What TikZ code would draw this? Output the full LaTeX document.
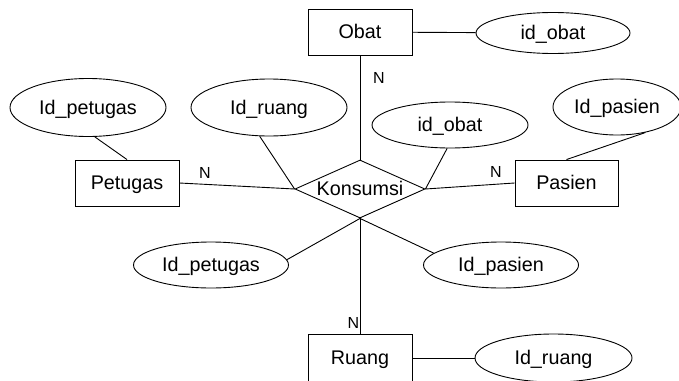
\documentclass[tikz,border=0pt]{standalone}
\usepackage{fontspec}
\setmainfont{Liberation Sans}
\usetikzlibrary{shapes.geometric}
\begin{document}
\begin{tikzpicture}[x=1pt,y=-1pt,
  every node/.style={inner sep=0pt, font=\fontsize{19.75}{22}\selectfont, text height=13.8pt, text depth=0pt},
  ent/.style={draw, rectangle, line width=0.9pt, minimum width=104pt, minimum height=46pt},
  attr/.style={draw, ellipse, line width=0.9pt, minimum width=156pt},
  rel/.style={draw, diamond, aspect=2.24, line width=0.9pt, minimum width=130pt, minimum height=58pt},
  card/.style={font=\fontsize{16}{18}\selectfont, text height=11.4pt},
  conn/.style={line width=0.9pt}]
\useasboundingbox (0,0) rectangle (679,380);
\clip (0,0) rectangle (679,380);

% entities
\node[ent] (obat) at (360,32) {Obat};
\node[ent] (petugas) at (127,183) {Petugas};
\node[ent, minimum width=103pt] (pasien) at (566.5,183) {Pasien};
\node[ent, minimum height=48pt] (ruang) at (360,358) {Ruang};

% relationship
\node[rel] (kons) at (360,189) {Konsumsi};

% attributes
\node[attr, minimum width=154pt, minimum height=41pt] (idobat1) at (553,33) {id\_obat};
\node[attr, minimum height=58pt] (idpet1) at (88,107.5) {Id\_petugas};
\node[attr, minimum height=57pt] (idruang1) at (269,107.5) {Id\_ruang};
\node[attr, minimum height=46pt] (idobat2) at (450,125) {id\_obat};
\node[attr, minimum width=128pt, minimum height=56pt] (idpas1) at (617,107) {Id\_pasien};
\node[attr, minimum width=155pt, minimum height=46pt] (idpet2) at (211,265) {Id\_petugas};
\node[attr, minimum width=155pt, minimum height=46pt] (idpas2) at (501,265) {Id\_pasien};
\node[attr, minimum width=157pt, minimum height=48pt] (idruang2) at (553.5,358) {Id\_ruang};

% cardinalities
\node[card] (nobat) at (379,78) {N};
\node[card] (npet) at (205,172.5) {N};
\node[card] (npas) at (496,172) {N};
\node[card] (nruang) at (353.5,322.5) {N};

% connectors
\draw[conn] (obat) -- (idobat1);
\draw[conn] (obat.south) -- (kons.north);
\draw[conn] (idpet1.-77) -- (petugas.north);
\draw[conn] (idruang1.-108) -- (kons.west);
\draw[conn] (petugas.east) -- (kons.west);
\draw[conn] (idobat2.-97) -- (kons.east);
\draw[conn] (kons.east) -- (pasien.west);
\draw[conn] (idpas1.-42) -- (pasien.north);
\draw[conn] (idpet2.4) -- (kons.south);
\draw[conn] (idpas2.170) -- (kons.south);
\draw[conn] (kons.south) -- (ruang.north);
\draw[conn] (ruang) -- (idruang2);
\end{tikzpicture}
\end{document}
